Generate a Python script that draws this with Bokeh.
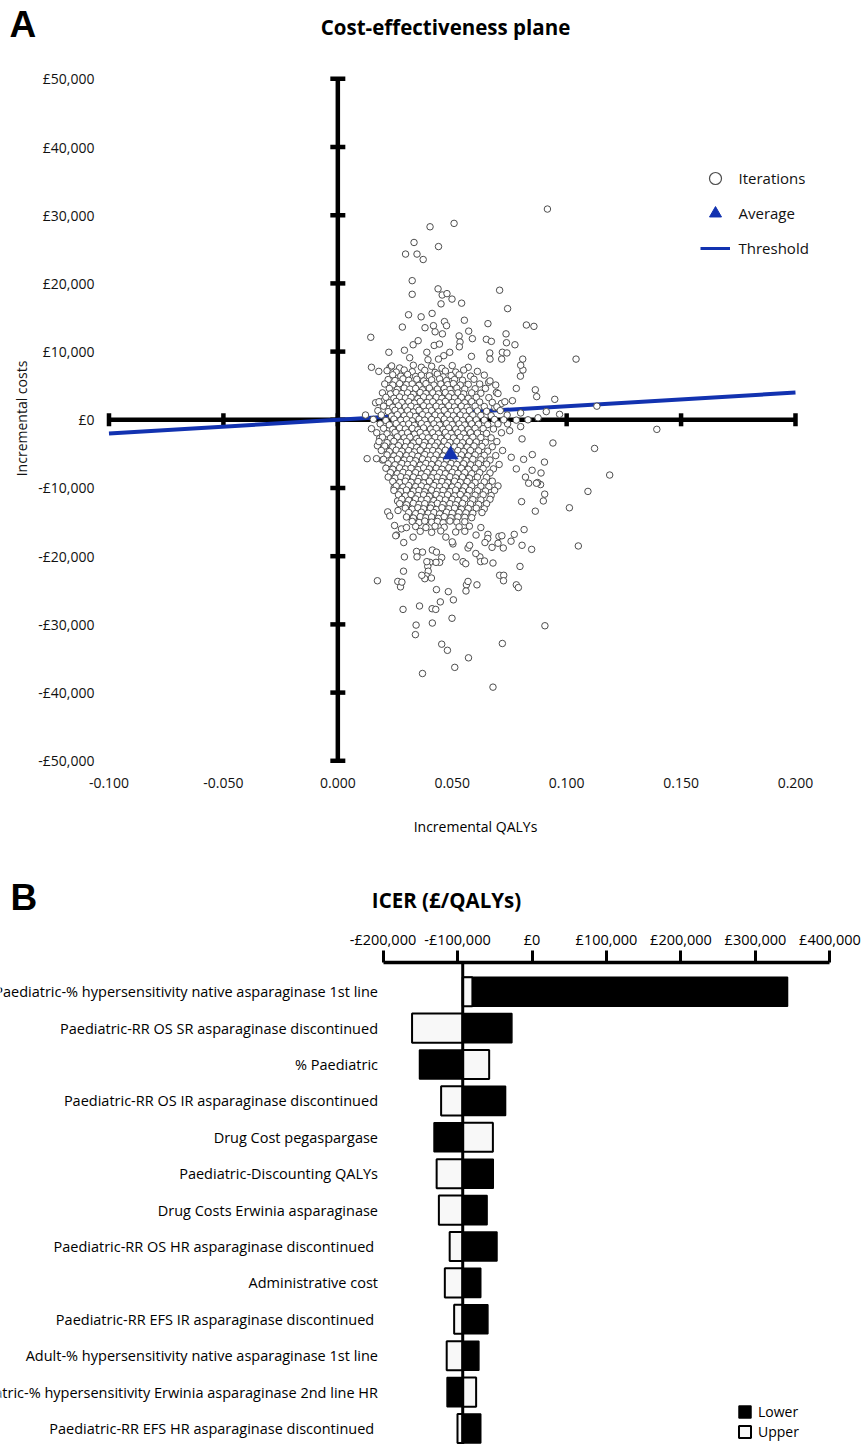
import math
from bokeh.plotting import figure
from bokeh.models import (Range1d, FixedTicker, Legend, LegendItem, Span, ColumnDataSource)
from bokeh.core.properties import value
from bokeh.embed import file_html
from bokeh.resources import INLINE

FONT = "Open Sans"
LETTER_FONT = "Liberation Sans"
BLUE = "#1232b0"
W = 861

# ---------------- Panel A : cost-effectiveness plane ----------------
qaly_ticks = [-0.1, -0.05, 0.0, 0.05, 0.1, 0.15, 0.2]
qaly_tick_labels = ["-0.100", "-0.050", "0.000", "0.050", "0.100", "0.150", "0.200"]
cost_ticks = [50000, 40000, 30000, 20000, 10000, 0, -10000, -20000, -30000, -40000, -50000]
cost_tick_labels = ["£50,000", "£40,000", "£30,000", "£20,000", "£10,000", "£0",
                    "-£10,000", "-£20,000", "-£30,000", "-£40,000", "-£50,000"]
wtp_threshold = 20000
average_qaly = [0.0493]
average_cost = [-5130]

# isolated iterations (read individually)
iter_outlying = [
    (0.0916, 30900), (0.0403, 28300), (0.0508, 28800), (0.0333, 26000), (0.0440, 25400), (0.0296, 24300),
    (0.0346, 24300), (0.0373, 23500), (0.0325, 20400), (0.0325, 18400), (0.0438, 19200), (0.0456, 18300),
    (0.0477, 18500), (0.0499, 17700), (0.0451, 17000), (0.0541, 17100), (0.0707, 19000), (0.0742, 16300),
    (0.0309, 15400), (0.0364, 15100), (0.0412, 15600), (0.0466, 14400), (0.0475, 13800), (0.0553, 14600),
    (0.0282, 13600), (0.0381, 13500), (0.0418, 13800), (0.0425, 12900), (0.0457, 12600), (0.0572, 13000),
    (0.0656, 14100), (0.0824, 13900), (0.0857, 13700), (0.0144, 12100), (0.0530, 12300), (0.0588, 11900),
    (0.0649, 11800), (0.0671, 11500), (0.0735, 12600), (0.0737, 11300), (0.0774, 11000), (0.0329, 11000),
    (0.0351, 11600), (0.0421, 10900), (0.0444, 11100), (0.0534, 11400), (0.0531, 10700), (0.0223, 9900),
    (0.0291, 10200), (0.0389, 9900), (0.0489, 9900), (0.0463, 9400), (0.0314, 9100), (0.0584, 9300),
    (0.0664, 9800), (0.0665, 8900), (0.0719, 9900), (0.0739, 9800), (0.0716, 8900), (0.0808, 8900),
    (0.1041, 8900), (0.0440, 8900), (0.0394, 8800),
    (0.0147, 7700), (0.0179, 7100), (0.0228, 7700), (0.0165, 2500), (0.0121, 700), (0.0147, -1300),
    (0.0183, -2700), (0.0173, -3800), (0.0128, -5700), (0.0169, -5700), (0.0195, -5900), (0.0208, -4200),
    (0.0201, 2800), (0.0216, 2500),
    (0.0809, 7300), (0.0798, 6400), (0.0780, 4600), (0.0863, 4400), (0.0869, 3400), (0.0948, 3000),
    (0.1132, 2000), (0.0911, 1200), (0.0969, 800), (0.0875, 300), (0.0763, 2800), (0.0799, 1000),
    (0.0831, 0), (0.0742, -600), (0.0751, -1600), (0.0799, -1000), (0.0805, -2800), (0.0940, -3400),
    (0.1122, -4200), (0.0850, -5100), (0.0812, -5800), (0.0903, -6200), (0.0849, -7400), (0.0888, -7800),
    (0.0758, -5500), (0.0780, -7200), (0.0820, -8400), (0.1188, -8100), (0.0686, 1800), (0.0715, 2400),
    (0.0693, 4000), (0.0659, 5500), (0.0799, 8000), (0.1394, -1400), (0.0886, -9500), (0.0873, -9200),
    (0.1093, -10500), (0.1012, -12900), (0.1051, -18500), (0.0904, -10900), (0.0898, -11900), (0.0863, -13400),
    (0.0834, -9300), (0.0868, -9300), (0.0803, -12000), (0.0814, -16100), (0.0771, -16800), (0.0757, -17800),
    (0.0805, -18400), (0.0847, -19000), (0.0796, -21500), (0.0723, -18800), (0.0700, -18100), (0.0704, -17100),
    (0.0717, -17000), (0.0656, -16800), (0.0655, -17400), (0.0643, -18000), (0.0674, -18700), (0.0604, -16900),
    (0.0678, -21000), (0.0621, -20100), (0.0624, -20800), (0.0641, -20700), (0.0603, -19600), (0.0569, -18800),
    (0.0576, -18400), (0.0547, -20800), (0.0559, -21100), (0.0517, -20100), (0.0503, -18200), (0.0500, -17900),
    (0.0472, -17200), (0.0454, -20200), (0.0445, -20900), (0.0429, -20900), (0.0402, -20900), (0.0393, -21500),
    (0.0395, -22200), (0.0387, -22900), (0.0380, -23300), (0.0409, -23200), (0.0367, -22800), (0.0389, -20800),
    (0.0413, -19100), (0.0431, -19400), (0.0370, -19400), (0.0344, -19300), (0.0346, -20100), (0.0291, -20100),
    (0.0287, -22200), (0.0288, -18000), (0.0256, -16900), (0.0278, -16000), (0.0300, -15800), (0.0248, -15500),
    (0.0329, -17200), (0.0173, -23600), (0.0262, -23700), (0.0274, -24500), (0.0280, -23800), (0.0431, -24900),
    (0.0562, -24200), (0.0569, -23700), (0.0608, -24200), (0.0707, -22800), (0.0725, -22800), (0.0724, -23600),
    (0.0780, -24200), (0.0789, -24600), (0.0218, -13500), (0.0227, -14100), (0.0246, -10000), (0.0263, -13300),
    (0.0261, -11900), (0.0287, -11700), (0.0253, -17000), (0.0483, -25200), (0.0560, -25100),
    (0.0285, -27800), (0.0357, -27300), (0.0412, -27700), (0.0428, -27800), (0.0448, -26700), (0.0505, -26400),
    (0.0499, -29100), (0.0413, -29800), (0.0342, -30100), (0.0339, -31500), (0.0454, -32900), (0.0479, -33800),
    (0.0571, -34900), (0.0511, -36300), (0.0370, -37200), (0.0678, -39200), (0.0719, -32800), (0.0905, -30200),
]

# dense core of iterations (estimated from the overlapping cloud)
iter_core = [
    (0.0235, 7900), (0.0270, 7600), (0.0330, 8000), (0.0365, 7700), (0.0410, 7850), (0.0455, 7550), (0.0500, 7950), (0.0570, 7700),
    (0.0215, 7200), (0.0255, 7000), (0.0290, 7300), (0.0325, 7050), (0.0380, 7250), (0.0425, 6950), (0.0470, 7150), (0.0515, 7000), (0.0550, 7300), (0.0610, 7100),
    (0.0240, 6600), (0.0275, 6400), (0.0305, 6650), (0.0340, 6350), (0.0365, 6550), (0.0400, 6450), (0.0435, 6700), (0.0460, 6300), (0.0495, 6500), (0.0530, 6600), (0.0580, 6400), (0.0640, 6550),
    (0.0220, 5900), (0.0250, 5750), (0.0285, 6000), (0.0310, 5800), (0.0345, 5950), (0.0375, 5700), (0.0410, 5850), (0.0445, 6000), (0.0475, 5750), (0.0510, 5900), (0.0545, 5800), (0.0595, 5950), (0.0665, 5700),
    (0.0205, 5250), (0.0240, 5100), (0.0270, 5300), (0.0300, 5150), (0.0325, 5250), (0.0355, 5050), (0.0385, 5300), (0.0420, 5100), (0.0450, 5250), (0.0480, 5150), (0.0505, 5300), (0.0535, 5100), (0.0570, 5200), (0.0620, 5250), (0.0690, 5100),
    (0.0225, 4600), (0.0260, 4450), (0.0290, 4650), (0.0315, 4500), (0.0340, 4600), (0.0370, 4400), (0.0400, 4650), (0.0435, 4500), (0.0465, 4600), (0.0490, 4450), (0.0520, 4650), (0.0555, 4500), (0.0600, 4550), (0.0645, 4600),
    (0.0195, 3950), (0.0230, 3800), (0.0255, 4000), (0.0280, 3850), (0.0305, 3950), (0.0330, 3750), (0.0360, 4000), (0.0385, 3850), (0.0415, 3950), (0.0440, 3800), (0.0470, 4000), (0.0495, 3850), (0.0525, 3950), (0.0550, 3800), (0.0585, 3950), (0.0625, 3900), (0.0700, 3850),
    (0.0210, 3300), (0.0245, 3150), (0.0270, 3350), (0.0295, 3200), (0.0320, 3300), (0.0350, 3100), (0.0375, 3350), (0.0400, 3200), (0.0430, 3300), (0.0455, 3150), (0.0485, 3350), (0.0510, 3200), (0.0540, 3300), (0.0570, 3150), (0.0605, 3300), (0.0660, 3250),
    (0.0180, 2650), (0.0225, 2500), (0.0255, 2700), (0.0280, 2550), (0.0310, 2650), (0.0335, 2450), (0.0360, 2700), (0.0390, 2550), (0.0415, 2650), (0.0445, 2500), (0.0470, 2700), (0.0500, 2550), (0.0525, 2650), (0.0555, 2500), (0.0585, 2650), (0.0620, 2600), (0.0675, 2550), (0.0730, 2650),
    (0.0200, 2000), (0.0240, 1850), (0.0265, 2050), (0.0295, 1900), (0.0320, 2000), (0.0345, 1800), (0.0375, 2050), (0.0400, 1900), (0.0430, 2000), (0.0455, 1850), (0.0485, 2050), (0.0510, 1900), (0.0540, 2000), (0.0565, 1850), (0.0600, 2000), (0.0640, 1950), (0.0695, 1900),
    (0.0175, 1350), (0.0220, 1200), (0.0250, 1400), (0.0275, 1250), (0.0305, 1350), (0.0330, 1150), (0.0355, 1400), (0.0385, 1250), (0.0410, 1350), (0.0440, 1200), (0.0465, 1400), (0.0495, 1250), (0.0520, 1350), (0.0550, 1200), (0.0575, 1350), (0.0610, 1300), (0.0650, 1250), (0.0710, 1350),
    (0.0190, 700), (0.0235, 550), (0.0260, 750), (0.0290, 600), (0.0315, 700), (0.0340, 500), (0.0370, 750), (0.0395, 600), (0.0425, 700), (0.0450, 550), (0.0480, 750), (0.0505, 600), (0.0535, 700), (0.0560, 550), (0.0590, 700), (0.0625, 650), (0.0670, 600), (0.0740, 700),
    (0.0155, 50), (0.0210, -100), (0.0245, 100), (0.0275, -50), (0.0300, 50), (0.0325, -150), (0.0355, 100), (0.0380, -50), (0.0410, 50), (0.0435, -100), (0.0465, 100), (0.0490, -50), (0.0520, 50), (0.0545, -100), (0.0575, 50), (0.0605, 0), (0.0640, -50), (0.0685, 50), (0.0725, 0), (0.0780, -50),
    (0.0185, -600), (0.0225, -750), (0.0255, -550), (0.0285, -700), (0.0310, -600), (0.0335, -800), (0.0365, -550), (0.0390, -700), (0.0420, -600), (0.0445, -750), (0.0475, -550), (0.0500, -700), (0.0530, -600), (0.0555, -750), (0.0585, -600), (0.0615, -650), (0.0655, -700), (0.0700, -600),
    (0.0200, -1250), (0.0240, -1400), (0.0270, -1200), (0.0295, -1350), (0.0325, -1250), (0.0350, -1450), (0.0375, -1200), (0.0405, -1350), (0.0430, -1250), (0.0460, -1400), (0.0485, -1200), (0.0515, -1350), (0.0540, -1250), (0.0570, -1400), (0.0600, -1250), (0.0635, -1300), (0.0680, -1350),
    (0.0170, -1900), (0.0215, -2050), (0.0250, -1850), (0.0280, -2000), (0.0305, -1900), (0.0335, -2100), (0.0360, -1850), (0.0385, -2000), (0.0415, -1900), (0.0440, -2050), (0.0470, -1850), (0.0495, -2000), (0.0525, -1900), (0.0550, -2050), (0.0580, -1900), (0.0610, -1950), (0.0650, -2000), (0.0715, -1900),
    (0.0195, -2550), (0.0230, -2700), (0.0260, -2500), (0.0290, -2650), (0.0315, -2550), (0.0345, -2750), (0.0370, -2500), (0.0395, -2650), (0.0425, -2550), (0.0450, -2700), (0.0480, -2500), (0.0505, -2650), (0.0535, -2550), (0.0560, -2700), (0.0590, -2550), (0.0625, -2600), (0.0670, -2650),
    (0.0180, -3200), (0.0215, -3350), (0.0245, -3150), (0.0275, -3300), (0.0300, -3200), (0.0330, -3400), (0.0355, -3150), (0.0380, -3300), (0.0410, -3200), (0.0435, -3350), (0.0465, -3150), (0.0490, -3300), (0.0520, -3200), (0.0545, -3350), (0.0575, -3200), (0.0605, -3250), (0.0645, -3300), (0.0695, -3200),
    (0.0205, -3850), (0.0240, -4000), (0.0265, -3800), (0.0295, -3950), (0.0320, -3850), (0.0345, -4050), (0.0375, -3800), (0.0400, -3950), (0.0425, -3850), (0.0455, -4000), (0.0480, -3800), (0.0510, -3950), (0.0535, -3850), (0.0565, -4000), (0.0595, -3850), (0.0630, -3900), (0.0675, -3950),
    (0.0190, -4500), (0.0225, -4650), (0.0255, -4450), (0.0280, -4600), (0.0310, -4500), (0.0335, -4700), (0.0360, -4450), (0.0390, -4600), (0.0415, -4500), (0.0440, -4650), (0.0470, -4450), (0.0495, -4600), (0.0525, -4500), (0.0550, -4650), (0.0580, -4500), (0.0615, -4550), (0.0655, -4600), (0.0720, -4500),
    (0.0215, -5150), (0.0245, -5300), (0.0270, -5100), (0.0300, -5250), (0.0325, -5150), (0.0350, -5350), (0.0380, -5100), (0.0405, -5250), (0.0430, -5150), (0.0460, -5300), (0.0485, -5100), (0.0515, -5250), (0.0540, -5150), (0.0570, -5300), (0.0600, -5150), (0.0640, -5200), (0.0690, -5250),
    (0.0200, -5800), (0.0235, -5950), (0.0260, -5750), (0.0290, -5900), (0.0315, -5800), (0.0340, -6000), (0.0370, -5750), (0.0395, -5900), (0.0420, -5800), (0.0450, -5950), (0.0475, -5750), (0.0505, -5900), (0.0530, -5800), (0.0560, -5950), (0.0590, -5800), (0.0625, -5850), (0.0665, -5900),
    (0.0220, -6450), (0.0250, -6600), (0.0280, -6400), (0.0305, -6550), (0.0330, -6450), (0.0360, -6650), (0.0385, -6400), (0.0410, -6550), (0.0440, -6450), (0.0465, -6600), (0.0495, -6400), (0.0520, -6550), (0.0550, -6450), (0.0580, -6600), (0.0615, -6450), (0.0650, -6500), (0.0705, -6550),
    (0.0210, -7100), (0.0240, -7250), (0.0270, -7050), (0.0295, -7200), (0.0320, -7100), (0.0350, -7300), (0.0375, -7050), (0.0400, -7200), (0.0430, -7100), (0.0455, -7250), (0.0485, -7050), (0.0510, -7200), (0.0540, -7100), (0.0570, -7250), (0.0600, -7100), (0.0635, -7150), (0.0680, -7200),
    (0.0230, -7750), (0.0260, -7900), (0.0285, -7700), (0.0310, -7850), (0.0340, -7750), (0.0365, -7950), (0.0390, -7700), (0.0420, -7850), (0.0445, -7750), (0.0470, -7900), (0.0500, -7700), (0.0525, -7850), (0.0555, -7750), (0.0585, -7900), (0.0620, -7750), (0.0665, -7800),
    (0.0220, -8400), (0.0250, -8550), (0.0275, -8350), (0.0300, -8500), (0.0330, -8400), (0.0355, -8600), (0.0380, -8350), (0.0410, -8500), (0.0435, -8400), (0.0460, -8550), (0.0490, -8350), (0.0515, -8500), (0.0545, -8400), (0.0575, -8550), (0.0610, -8400), (0.0650, -8450),
    (0.0240, -9050), (0.0270, -9200), (0.0295, -9000), (0.0320, -9150), (0.0350, -9050), (0.0375, -9250), (0.0400, -9000), (0.0430, -9150), (0.0455, -9050), (0.0480, -9200), (0.0510, -9000), (0.0535, -9150), (0.0565, -9050), (0.0600, -9200), (0.0640, -9100), (0.0675, -9000),
    (0.0255, -9700), (0.0285, -9850), (0.0310, -9650), (0.0340, -9800), (0.0365, -9700), (0.0390, -9900), (0.0420, -9650), (0.0445, -9800), (0.0470, -9700), (0.0500, -9850), (0.0525, -9650), (0.0555, -9800), (0.0585, -9700), (0.0625, -9750), (0.0660, -9800), (0.0700, -9700),
    (0.0245, -10350), (0.0275, -10500), (0.0300, -10300), (0.0330, -10450), (0.0355, -10350), (0.0380, -10550), (0.0410, -10300), (0.0435, -10450), (0.0460, -10350), (0.0490, -10500), (0.0515, -10300), (0.0545, -10450), (0.0575, -10350), (0.0610, -10400), (0.0645, -10450), (0.0685, -10350),
    (0.0265, -11000), (0.0295, -11150), (0.0320, -10950), (0.0350, -11100), (0.0375, -11000), (0.0400, -11200), (0.0430, -10950), (0.0455, -11100), (0.0480, -11000), (0.0510, -11150), (0.0535, -10950), (0.0565, -11100), (0.0600, -11050), (0.0635, -11000), (0.0670, -11100),
    (0.0280, -11650), (0.0310, -11800), (0.0340, -11600), (0.0365, -11750), (0.0390, -11650), (0.0420, -11850), (0.0445, -11600), (0.0470, -11750), (0.0500, -11650), (0.0525, -11800), (0.0555, -11600), (0.0590, -11700), (0.0625, -11750), (0.0665, -11650),
    (0.0270, -12300), (0.0300, -12450), (0.0330, -12250), (0.0355, -12400), (0.0380, -12300), (0.0410, -12500), (0.0435, -12250), (0.0460, -12400), (0.0490, -12300), (0.0515, -12450), (0.0545, -12250), (0.0580, -12350), (0.0615, -12400), (0.0650, -12300),
    (0.0295, -12950), (0.0325, -13100), (0.0350, -12900), (0.0375, -13050), (0.0405, -12950), (0.0430, -13150), (0.0455, -12900), (0.0485, -13050), (0.0510, -12950), (0.0540, -13100), (0.0570, -13000), (0.0605, -12950), (0.0640, -13050),
    (0.0310, -13600), (0.0340, -13750), (0.0365, -13550), (0.0395, -13700), (0.0420, -13600), (0.0445, -13800), (0.0475, -13550), (0.0500, -13700), (0.0530, -13600), (0.0560, -13650), (0.0590, -13700), (0.0630, -13600),
    (0.0300, -14250), (0.0330, -14400), (0.0360, -14200), (0.0385, -14350), (0.0410, -14250), (0.0440, -14450), (0.0465, -14200), (0.0495, -14350), (0.0525, -14250), (0.0555, -14300), (0.0585, -14350),
    (0.0325, -14900), (0.0355, -15050), (0.0380, -14850), (0.0410, -15000), (0.0435, -14900), (0.0460, -15100), (0.0490, -14850), (0.0520, -15000), (0.0555, -14950),
    (0.0340, -15650), (0.0385, -15800), (0.0425, -15600), (0.0465, -15750), (0.0530, -15700), (0.0575, -15600), (0.0625, -15800),
    (0.0360, -16350), (0.0410, -16500), (0.0450, -16300), (0.0515, -16450), (0.0555, -16350),
]

# ---------------- Panel B : tornado diagram ----------------
parameters = [
    "Paediatric-% hypersensitivity native asparaginase 1st line",
    "Paediatric-RR OS SR asparaginase discontinued",
    "% Paediatric",
    "Paediatric-RR OS IR asparaginase discontinued",
    "Drug Cost pegaspargase",
    "Paediatric-Discounting QALYs",
    "Drug Costs Erwinia asparaginase",
    "Paediatric-RR OS HR asparaginase discontinued ",
    "Administrative cost",
    "Paediatric-RR EFS IR asparaginase discontinued ",
    "Adult-% hypersensitivity native asparaginase 1st line",
    "Paediatric-% hypersensitivity Erwinia asparaginase 2nd line HR",
    "Paediatric-RR EFS HR asparaginase discontinued ",
]
icer_base = -93000
icer_lower = [343000, -27000, -151000, -35500, -131500, -52000, -60300, -47000, -68800, -59200, -71300, -114000, -68800]
icer_upper = [-80000, -161000, -57500, -122000, -52500, -128000, -125000, -110500, -117000, -104500, -114500, -75000, -100000]
icer_ticks = [-200000, -100000, 0, 100000, 200000, 300000, 400000]
icer_tick_labels = ["-£200,000", "-£100,000", "£0", "£100,000", "£200,000", "£300,000", "£400,000"]


def text_strip(height):
    """An axis-free strip whose frame is the whole canvas (pixel-like coordinates, y down)."""
    p = figure(width=W, height=height, x_range=Range1d(0, W), y_range=Range1d(height, 0),
               x_axis_location=None, y_axis_location=None, toolbar_location=None,
               output_backend="svg", min_border=0)
    p.outline_line_color = None
    p.grid.visible = False
    return p


def put_text(p, x, y, text, size, bold=False, align="left", font=FONT):
    p.text(x=[x], y=[y], text=[text], text_align=align, text_baseline="middle",
           text_font=value(font), text_font_size=value(size),
           text_font_style=value("bold" if bold else "normal"), text_color="black")


# ================= header of A =================
headA = text_strip(58)
put_text(headA, 9, 24, "A", "37px", bold=True, font=LETTER_FONT)
put_text(headA, 445, 26, "Cost-effectiveness plane", "20.5px", bold=True, align="center")

# ================= Figure A =================
iters = iter_outlying + iter_core
src_it = ColumnDataSource(dict(q=[p[0] for p in iters], c=[p[1] for p in iters]))

pA = figure(width=W, height=742, x_range=Range1d(-0.10546, 0.21093),
            y_range=Range1d(-51276, 51657), output_backend="svg", toolbar_location=None,
            min_border_left=96, min_border_right=41, min_border_top=9, min_border_bottom=31)
pA.grid.visible = False
pA.outline_line_color = None

pA.xaxis.ticker = FixedTicker(ticks=qaly_ticks)
pA.xaxis.major_label_overrides = dict(zip(qaly_ticks, qaly_tick_labels))
pA.yaxis.ticker = FixedTicker(ticks=cost_ticks)
pA.yaxis.major_label_overrides = dict(zip(cost_ticks, cost_tick_labels))
for ax in (pA.xaxis[0], pA.yaxis[0]):
    ax.axis_line_color = None
    ax.major_tick_line_color = None
    ax.minor_tick_line_color = None
    ax.major_tick_out = 0
    ax.major_tick_in = 0
    ax.major_label_text_font = FONT
    ax.major_label_text_font_size = "14px"
    ax.major_label_text_color = "#111111"
pA.xaxis.major_label_standoff = 8
pA.yaxis.major_label_standoff = 2
pA.yaxis.axis_label = "Incremental costs"
pA.yaxis.axis_label_standoff = 4
pA.yaxis.axis_label_text_font = FONT
pA.yaxis.axis_label_text_font_size = "14px"
pA.yaxis.axis_label_text_font_style = "normal"
pA.yaxis.axis_label_text_color = "#111111"

# cross-hair axes through the origin
xa0, xa1 = qaly_ticks[0], qaly_ticks[-1]
ya0, ya1 = cost_ticks[-1], cost_ticks[0]
pA.segment(x0=[xa0, 0], y0=[0, ya0], x1=[xa1, 0], y1=[0, ya1], line_color="black", line_width=4.5)
pA.scatter(x=qaly_ticks, y=[0] * len(qaly_ticks), marker="dash", angle=math.pi / 2, size=13,
           line_color="black", line_width=4.5)
pA.scatter(x=[0] * len(cost_ticks), y=cost_ticks, marker="dash", size=15,
           line_color="black", line_width=4.5)

# threshold line
pA.line(x=[xa0, xa1], y=[wtp_threshold * xa0, wtp_threshold * xa1], line_color=BLUE, line_width=4)

# iterations
pA.scatter("q", "c", source=src_it, marker="circle", size=6.5, fill_color="white",
           line_color="#4d4d4d", line_width=1)
# average
pA.scatter(x=average_qaly, y=average_cost, marker="triangle", size=15, fill_color=BLUE,
           line_color=BLUE, line_width=0.5)

# legend: renderers with one non-drawable (NaN) row carry the legend glyph style
nan_src = ColumnDataSource(dict(x=[float("nan")], y=[float("nan")]))
r_it = pA.scatter("x", "y", source=nan_src, marker="circle", fill_color="white",
                  line_color="#4d4d4d", line_width=1.2)
r_avg = pA.scatter("x", "y", source=nan_src, marker="triangle", fill_color=BLUE, line_color=BLUE)
r_thr = pA.line("x", "y", source=nan_src, line_color=BLUE, line_width=3)
legA = Legend(items=[LegendItem(label="Iterations", renderers=[r_it]),
                     LegendItem(label="Average", renderers=[r_avg]),
                     LegendItem(label="Threshold", renderers=[r_thr])],
              location=(603.5, 506.3), orientation="vertical", padding=0, margin=0,
              spacing=5, glyph_width=30, glyph_height=30, label_height=30,
              label_standoff=9, label_text_font=FONT, label_text_font_size="15px",
              label_text_color="#111111",
              background_fill_alpha=0, border_line_alpha=0)
pA.add_layout(legA)

# ================= strip between the panels =================
mid = text_strip(120)
put_text(mid, 475, 26, "Incremental QALYs", "14px", align="center")
put_text(mid, 10, 97, "B", "37px", bold=True, font=LETTER_FONT)
put_text(mid, 446, 99, "ICER (£/QALYs)", "20.5px", bold=True, align="center")

# ================= Figure B =================
rows = list(range(1, len(parameters) + 1))
srcL = ColumnDataSource(dict(y=rows, left=[min(icer_base, v) for v in icer_lower],
                             right=[max(icer_base, v) for v in icer_lower]))
srcU = ColumnDataSource(dict(y=rows, left=[min(icer_base, v) for v in icer_upper],
                             right=[max(icer_base, v) for v in icer_upper]))

pB = figure(width=W, height=524, x_range=Range1d(-713423, 442282), y_range=Range1d(13.44, 0.198),
            x_axis_location="above", output_backend="svg", toolbar_location=None,
            min_border_left=0, min_border_right=0, min_border_top=42, min_border_bottom=0)
pB.grid.visible = False
pB.outline_line_color = None
pB.yaxis.visible = False
axB = pB.xaxis[0]
axB.ticker = FixedTicker(ticks=icer_ticks)
axB.major_label_overrides = dict(zip(icer_ticks, icer_tick_labels))
axB.bounds = (icer_ticks[0], icer_ticks[-1])
axB.axis_line_width = 3.5
axB.axis_line_color = "black"
axB.major_tick_line_width = 3
axB.major_tick_line_color = "black"
axB.major_tick_out = 12
axB.major_tick_in = 0
axB.minor_tick_line_color = None
axB.major_label_standoff = 2
axB.major_label_text_font = FONT
axB.major_label_text_font_size = "14.5px"
axB.major_label_text_color = "black"

rL = pB.hbar(y="y", left="left", right="right", height=0.8, source=srcL,
             fill_color="black", line_color="black", line_width=1.5)
rU = pB.hbar(y="y", left="left", right="right", height=0.8, source=srcU,
             fill_color="#f8f8f8", line_color="black", line_width=2)
pB.add_layout(Span(location=icer_base, dimension="height", line_color="black", line_width=3))

pB.text(x=[icer_ticks[0]] * len(parameters), y=rows, text=parameters, x_offset=-5,
        text_align="right", text_baseline="middle", text_font=value(FONT),
        text_font_size=value("14.5px"), text_color="black")

legB = Legend(items=[LegendItem(label="Lower", renderers=[rL]),
                     LegendItem(label="Upper", renderers=[rU])],
              location=(737, 3), orientation="vertical", padding=0, margin=0,
              spacing=1, glyph_width=15, glyph_height=15, label_height=15,
              label_standoff=6, label_text_font=FONT, label_text_font_size="14px",
              label_text_color="black",
              background_fill_alpha=0, border_line_alpha=0)
pB.add_layout(legB)

open("out.html", "w").write(file_html([headA, pA, mid, pB], INLINE))
